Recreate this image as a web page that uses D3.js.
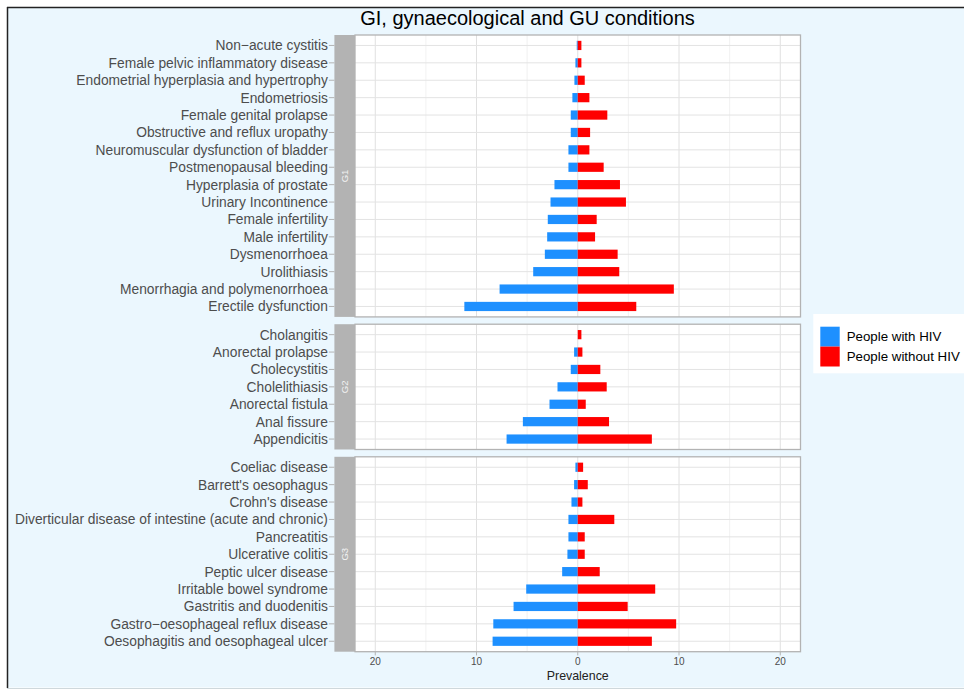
<!DOCTYPE html>
<html>
<head>
<meta charset="utf-8">
<script src="https://cdn.jsdelivr.net/npm/d3@7"></script>
<style>
  html, body { margin: 0; padding: 0; background: #ffffff; }
  svg { display: block; font-family: "Liberation Sans", Arial, sans-serif; }
</style>
</head>
<body>
<svg id="chart" width="964" height="689"></svg>
<script>
// ---------------- data ----------------
const title = "GI, gynaecological and GU conditions";
const xTitle = "Prevalence";
const seriesNames = ["People with HIV", "People without HIV"];
const seriesColors = ["#1E90FF", "#FF0000"];
const groups = ["G1", "G2", "G3"];

const g1Conditions = [
  "Non\u2212acute cystitis", "Female pelvic inflammatory disease", "Endometrial hyperplasia and hypertrophy",
  "Endometriosis", "Female genital prolapse", "Obstructive and reflux uropathy",
  "Neuromuscular dysfunction of bladder", "Postmenopausal bleeding", "Hyperplasia of prostate",
  "Urinary Incontinence", "Female infertility", "Male infertility", "Dysmenorrhoea",
  "Urolithiasis", "Menorrhagia and polymenorrhoea", "Erectile dysfunction"
];
const g1WithHIV =    [0.10, 0.23, 0.33, 0.53, 0.69, 0.69, 0.92, 0.92, 2.30, 2.69, 2.96, 3.02, 3.25, 4.40, 7.72, 11.20];
const g1WithoutHIV = [0.36, 0.36, 0.69, 1.15, 2.92, 1.22, 1.15, 2.56, 4.17, 4.76, 1.87, 1.71, 3.94, 4.10, 9.49, 5.78];

const g2Conditions = [
  "Cholangitis", "Anorectal prolapse", "Cholecystitis", "Cholelithiasis",
  "Anorectal fistula", "Anal fissure", "Appendicitis"
];
const g2WithHIV =    [0.00, 0.36, 0.69, 2.00, 2.79, 5.42, 7.03];
const g2WithoutHIV = [0.36, 0.46, 2.23, 2.86, 0.79, 3.09, 7.32];

const g3Conditions = [
  "Coeliac disease", "Barrett's oesophagus", "Crohn's disease",
  "Diverticular disease of intestine (acute and chronic)", "Pancreatitis", "Ulcerative colitis",
  "Peptic ulcer disease", "Irritable bowel syndrome", "Gastritis and duodenitis",
  "Gastro\u2212oesophageal reflux disease", "Oesophagitis and oesophageal ulcer"
];
const g3WithHIV =    [0.23, 0.36, 0.62, 0.92, 0.92, 1.02, 1.54, 5.09, 6.34, 8.34, 8.41];
const g3WithoutHIV = [0.53, 0.99, 0.46, 3.61, 0.69, 0.69, 2.17, 7.65, 4.93, 9.72, 7.32];

const xTicks = [-20, -10, 0, 10, 20];
const xMinorTicks = [-15, -5, 5, 15];

// ---------------- layout ----------------
const svg = d3.select("#chart");
const W = 964, H = 689;
const panelLeft = 355, panelRight = 800.5;
const stripW = 20.6;
const panelTop = 35, panelBottom = 651.7, panelGap = 7.3;

const panelsData = [
  { name: groups[0], cats: g1Conditions, a: g1WithHIV, b: g1WithoutHIV },
  { name: groups[1], cats: g2Conditions, a: g2WithHIV, b: g2WithoutHIV },
  { name: groups[2], cats: g3Conditions, a: g3WithHIV, b: g3WithoutHIV }
];

const totalUnits = d3.sum(panelsData, d => d.cats.length + 0.2);
const unit = (panelBottom - panelTop - panelGap * (panelsData.length - 1)) / totalUnits;
let yCursor = panelTop;
panelsData.forEach(p => {
  p.top = yCursor;
  p.height = (p.cats.length + 0.2) * unit;
  p.bottom = p.top + p.height;
  yCursor = p.bottom + panelGap;
});

const x = d3.scaleLinear().domain([-22, 22]).range([panelLeft, panelRight]);

// background
svg.append("rect").attr("x", 0).attr("y", 0).attr("width", W).attr("height", H).attr("fill", "#ffffff");
svg.append("rect").attr("x", 7.5).attr("y", 7.5).attr("width", W).attr("height", 680)
  .attr("fill", "#EBF7FE").attr("stroke", "none");
svg.append("line").attr("x1", 7).attr("x2", W).attr("y1", 7.5).attr("y2", 7.5).attr("stroke", "#222").attr("stroke-width", 1.5);
svg.append("line").attr("x1", 7.5).attr("x2", 7.5).attr("y1", 7).attr("y2", 688).attr("stroke", "#222").attr("stroke-width", 1.5);
svg.append("line").attr("x1", 7).attr("x2", W).attr("y1", 688.5).attr("y2", 688.5).attr("stroke", "#cfd8dc").attr("stroke-width", 1);

// title
svg.append("text").attr("x", 527.5).attr("y", 24.5).attr("text-anchor", "middle")
  .attr("font-size", 20).attr("fill", "#000").text(title);

panelsData.forEach(p => {
  const y = d3.scalePoint().domain(p.cats).range([p.top, p.bottom]).padding(0.6);
  const bh = y.step() * 0.53;
  const g = svg.append("g");

  // panel background
  g.append("rect").attr("x", panelLeft).attr("y", p.top).attr("width", panelRight - panelLeft)
    .attr("height", p.height).attr("fill", "#ffffff");

  // minor grid
  g.selectAll("line.minor").data(xMinorTicks).join("line")
    .attr("x1", d => x(d)).attr("x2", d => x(d)).attr("y1", p.top).attr("y2", p.bottom)
    .attr("stroke", "#EDEDED").attr("stroke-width", 0.8);
  // major grid
  g.selectAll("line.majorx").data(xTicks).join("line")
    .attr("x1", d => x(d)).attr("x2", d => x(d)).attr("y1", p.top).attr("y2", p.bottom)
    .attr("stroke", "#E0E0E0").attr("stroke-width", 1);
  g.selectAll("line.majory").data(p.cats).join("line")
    .attr("x1", panelLeft).attr("x2", panelRight).attr("y1", d => y(d)).attr("y2", d => y(d))
    .attr("stroke", "#E3E3E3").attr("stroke-width", 1);

  // bars: with HIV (negative side)
  g.selectAll("rect.a").data(p.cats.map((c, i) => ({ c, v: p.a[i] }))).join("rect")
    .attr("x", d => x(-d.v)).attr("width", d => x(0) - x(-d.v))
    .attr("y", d => y(d.c) - bh / 2).attr("height", bh)
    .attr("fill", seriesColors[0]);
  g.selectAll("rect.b").data(p.cats.map((c, i) => ({ c, v: p.b[i] }))).join("rect")
    .attr("x", x(0)).attr("width", d => x(d.v) - x(0))
    .attr("y", d => y(d.c) - bh / 2).attr("height", bh)
    .attr("fill", seriesColors[1]);

  // panel border
  g.append("rect").attr("x", panelLeft).attr("y", p.top).attr("width", panelRight - panelLeft)
    .attr("height", p.height).attr("fill", "none").attr("stroke", "#B3B3B3").attr("stroke-width", 1.3);

  // strip
  g.append("rect").attr("x", panelLeft - stripW).attr("y", p.top).attr("width", stripW)
    .attr("height", p.height).attr("fill", "#B3B3B3");
  const sx = panelLeft - stripW / 2, sy = (p.top + p.bottom) / 2;
  g.append("text").attr("transform", `translate(${sx},${sy}) rotate(-90)`)
    .attr("text-anchor", "middle").attr("dy", "0.35em").attr("font-size", 9.5)
    .attr("fill", "#F2F2F2").text(p.name);

  // y axis ticks + labels
  const ax = panelLeft - stripW;
  g.selectAll("line.yt").data(p.cats).join("line")
    .attr("x1", ax - 5.5).attr("x2", ax).attr("y1", d => y(d)).attr("y2", d => y(d))
    .attr("stroke", "#B3B3B3").attr("stroke-width", 1);
  g.selectAll("text.yl").data(p.cats).join("text")
    .attr("x", ax - 6.5).attr("y", d => y(d)).attr("dy", "0.36em")
    .attr("text-anchor", "end").attr("font-size", 13.8).attr("fill", "#4D4D4D")
    .text(d => d);

  p.y = y;
});

// x axis (bottom of last panel)
const last = panelsData[panelsData.length - 1];
const xa = svg.append("g");
xa.selectAll("line").data(xTicks).join("line")
  .attr("x1", d => x(d)).attr("x2", d => x(d)).attr("y1", last.bottom).attr("y2", last.bottom + 3.7)
  .attr("stroke", "#B3B3B3").attr("stroke-width", 1);
xa.selectAll("text").data(xTicks).join("text")
  .attr("x", d => x(d)).attr("y", last.bottom + 13.5).attr("text-anchor", "middle")
  .attr("font-size", 10).attr("fill", "#4D4D4D").text(d => Math.abs(d));
svg.append("text").attr("x", x(0)).attr("y", 680).attr("text-anchor", "middle")
  .attr("font-size", 12.4).attr("fill", "#222").text(xTitle);

// legend
const lg = svg.append("g");
lg.append("rect").attr("x", 813.3).attr("y", 314).attr("width", 160).attr("height", 59.3).attr("fill", "#ffffff");
seriesNames.forEach((s, i) => {
  lg.append("rect").attr("x", 820.3).attr("y", 326.7 + i * 19.9).attr("width", 19.4).attr("height", 19.9)
    .attr("fill", seriesColors[i]);
  lg.append("text").attr("x", 846.7).attr("y", 336.6 + i * 19.9).attr("dy", "0.35em")
    .attr("font-size", 13.3).attr("fill", "#000").text(s);
});
</script>
</body>
</html>
